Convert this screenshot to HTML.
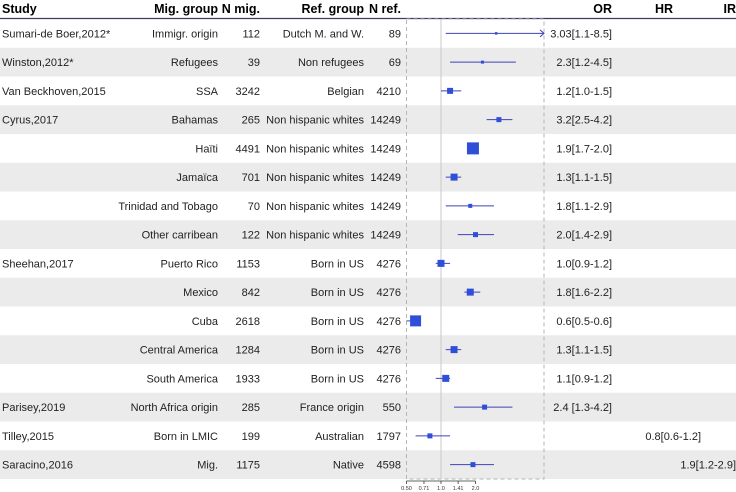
<!DOCTYPE html>
<html><head><meta charset="utf-8"><style>
html,body{margin:0;padding:0;background:#fff;}
svg{display:block;font-family:"Liberation Sans",Arial,sans-serif;}
</style></head><body>
<svg id="chart" width="736" height="492" xmlns="http://www.w3.org/2000/svg"></svg>
<script>
const studies=["Sumari-de Boer,2012*","Winston,2012*","Van Beckhoven,2015","Cyrus,2017","","","","","Sheehan,2017","","","","","Parisey,2019","Tilley,2015","Saracino,2016"];
const migGroups=["Immigr. origin","Refugees","SSA","Bahamas","Haïti","Jamaïca","Trinidad and Tobago","Other carribean","Puerto Rico","Mexico","Cuba","Central America","South America","North Africa origin","Born in LMIC","Mig."];
const nMig=[112,39,3242,265,4491,701,70,122,1153,842,2618,1284,1933,285,199,1175];
const refGroups=["Dutch M. and W.","Non refugees","Belgian","Non hispanic whites","Non hispanic whites","Non hispanic whites","Non hispanic whites","Non hispanic whites","Born in US","Born in US","Born in US","Born in US","Born in US","France origin","Australian","Native"];
const nRef=[89,69,4210,14249,14249,14249,14249,14249,4276,4276,4276,4276,4276,550,1797,4598];
const est=[3.03,2.3,1.2,3.2,1.9,1.3,1.8,2.0,1.0,1.8,0.6,1.3,1.1,2.4,0.8,1.9];
const lo=[1.1,1.2,1.0,2.5,1.7,1.1,1.1,1.4,0.9,1.6,0.5,1.1,0.9,1.3,0.6,1.2];
const hi=[8.5,4.5,1.5,4.2,2.0,1.5,2.9,2.9,1.2,2.2,0.6,1.5,1.2,4.2,1.2,2.9];
const boxSize=[2.5,3,6,5,12,7,4,5,7,7,11,7,7,5,5,5];
const measure=["OR","OR","OR","OR","OR","OR","OR","OR","OR","OR","OR","OR","OR","OR","HR","IR"];
const ciText=["3.03[1.1-8.5]","2.3[1.2-4.5]","1.2[1.0-1.5]","3.2[2.5-4.2]","1.9[1.7-2.0]","1.3[1.1-1.5]","1.8[1.1-2.9]","2.0[1.4-2.9]","1.0[0.9-1.2]","1.8[1.6-2.2]","0.6[0.5-0.6]","1.3[1.1-1.5]","1.1[0.9-1.2]","2.4 [1.3-4.2]","0.8[0.6-1.2]","1.9[1.2-2.9]"];
const ticks=[0.5,0.71,1.0,1.41,2.0];
const tickLabels=["0.50","0.71","1.0","1.41","2.0"];

const NS="http://www.w3.org/2000/svg";
const svg=document.getElementById('chart');
function mk(tag,attrs,parent){const e=document.createElementNS(NS,tag);for(const k in attrs)e.setAttribute(k,attrs[k]);(parent||svg).appendChild(e);return e;}
const top0=19,rowH=28.75,plotL=406.5,plotR=544,FS=11;
const xs=v=>441+Math.log2(v)*34.5;
const yc=i=>top0+rowH*i+rowH/2;
for(let i=0;i<studies.length;i++){
  if(i%2===1){const r=mk('rect',{x:0,y:top0+rowH*i,width:736,height:rowH,fill:'#ebebeb'});
  
  }
}
const hdr=[["Study",2,"start"],["Mig. group",218,"end"],["N mig.",260,"end"],["Ref. group",364,"end"],["N ref.",401,"end"],["OR",612,"end"],["HR",673,"end"],["IR",736,"end"]];
hdr.forEach(h=>{const t=mk('text',{x:h[1],y:13,'text-anchor':h[2],'font-size':12.5,'font-weight':'bold',fill:'#000'});t.textContent=h[0];

});
const hl=mk('line',{x1:0,x2:736,y1:18.5,y2:18.5,stroke:'#3a3a66','stroke-width':1.2});


const fr=mk('rect',{x:plotL,y:top0,width:plotR-plotL,height:rowH*16,fill:'none',stroke:'#b5b5b5','stroke-dasharray':'4,3','stroke-width':1});


const ref=mk('line',{x1:xs(1),x2:xs(1),y1:top0,y2:top0+rowH*16,stroke:'#c8c8c8','stroke-width':1});


const colX={OR:612,HR:701,IR:736};
for(let i=0;i<studies.length;i++){
  const y=yc(i)+4;
  const cells=[[studies[i],2,'start','study'],[migGroups[i],218,'end','mig-group'],[String(nMig[i]),260,'end','n-mig'],[refGroups[i],364,'end','ref-group'],[String(nRef[i]),401,'end','n-ref'],[ciText[i],colX[measure[i]],'end','estimate-text']];
  cells.forEach(c=>{if(!c[0])return;const t=mk('text',{x:c[1],y:y,'text-anchor':c[2],'font-size':FS,fill:'#222'});t.textContent=c[0];
  
  });
  const x1=Math.max(xs(lo[i]),plotL),x2r=xs(hi[i]),x2=Math.min(x2r,plotR);
  const ln=mk('line',{x1:x1,x2:x2,y1:yc(i),y2:yc(i),stroke:'#3b44b8','stroke-width':1});
  
  
  if(x2r>plotR){const a=mk('polyline',{points:`${plotR-4},${yc(i)-3.5} ${plotR},${yc(i)} ${plotR-4},${yc(i)+3.5}`,fill:'none',stroke:'#3b44b8','stroke-width':1});
  
  }
  const s=boxSize[i];
  const b=mk('rect',{x:xs(est[i])-s/2,y:yc(i)-s/2,width:s,height:s,fill:'#2f4fd9'});
  
  
}
const ay=481;
const ax=mk('line',{x1:xs(ticks[0]),x2:xs(ticks[ticks.length-1]),y1:ay,y2:ay,stroke:'#333','stroke-width':0.8});


ticks.forEach((v,k)=>{
  const tl=mk('line',{x1:xs(v),x2:xs(v),y1:ay,y2:ay+3,stroke:'#333','stroke-width':0.8});
  
  
  const t=mk('text',{x:xs(v),y:ay+9,'text-anchor':'middle','font-size':5.5,fill:'#333'});t.textContent=tickLabels[k];
  
  
});
</script>
</body></html>
